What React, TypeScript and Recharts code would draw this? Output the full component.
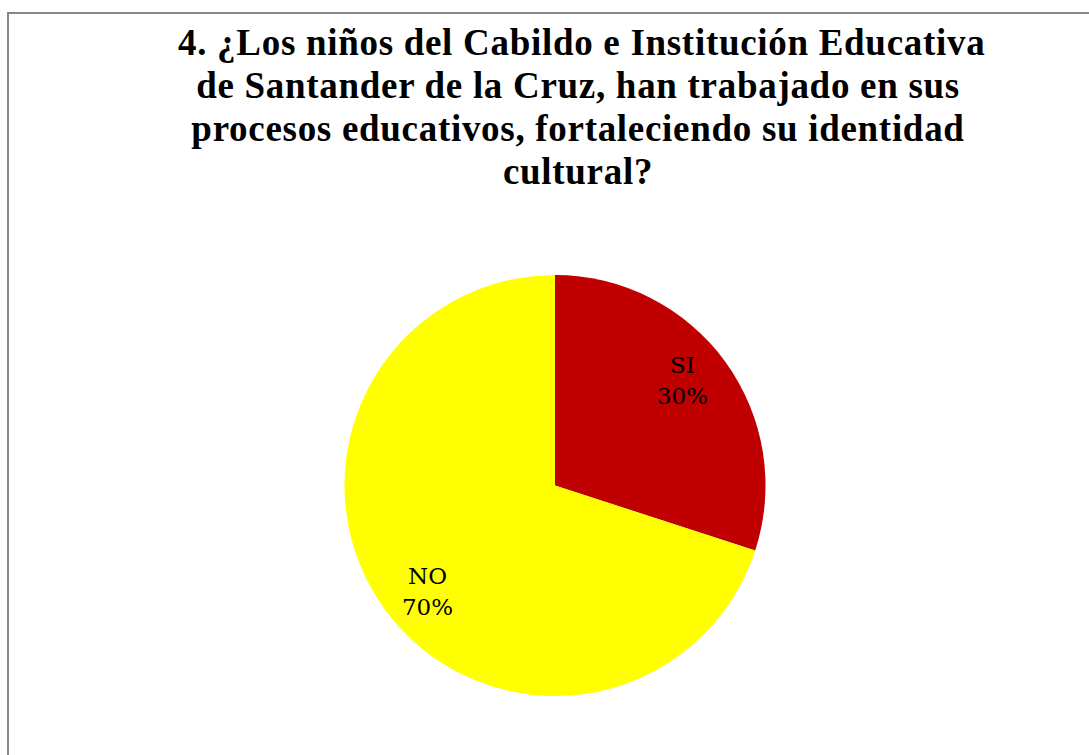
import { PieChart, Pie, Cell } from "recharts";

const categories = ["SI", "NO"];
const values = [30, 70];
const colors = ["#C00000", "#FFFF00"];
const titleLines = [
  "4. ¿Los niños del Cabildo e Institución Educativa",
  "de Santander de la Cruz, han trabajado en sus",
  "procesos educativos, fortaleciendo su identidad",
  "cultural?",
];

const data = categories.map((name, i) => ({ name, value: values[i] }));
const RAD = Math.PI / 180;

// labels sit a bit inside the slice, nudged slightly counter-clockwise like Excel's
function renderLabel(props: any) {
  const { cx, cy, midAngle, outerRadius, index, percent } = props;
  const r = outerRadius * 0.785;
  const a = (midAngle + 3.5) * RAD;
  const x = cx + r * Math.cos(-a);
  const y = cy + r * Math.sin(-a);
  return (
    <text
      x={x}
      y={y}
      textAnchor="middle"
      fill="#000"
      fontFamily="'DejaVu Serif', serif"
      fontSize={23}
    >
      <tspan x={x} dy={-7}>{data[index].name}</tspan>
      <tspan x={x} dy={31}>{`${Math.round(percent * 100)}%`}</tspan>
    </text>
  );
}

export default function App() {
  return (
    <div style={{ position: "fixed", left: 0, top: 0, width: 1089, height: 755, overflow: "hidden", background: "#fff" }}>
      <div style={{ position: "absolute", left: 7, top: 12, width: 1200, height: 900, border: "2px solid #878787" }} />
      <div
        style={{
          position: "absolute", left: 178, top: 21, width: 800, textAlign: "center",
          fontFamily: "'Liberation Serif', serif", fontWeight: "bold", fontSize: 37,
          letterSpacing: "0.7px", lineHeight: "43px", whiteSpace: "nowrap", color: "#000",
        }}
      >
        {titleLines.map((l, i) => <div key={i}>{l}</div>)}
      </div>
      <PieChart width={1089} height={755} style={{ position: "absolute", left: 0, top: 0 }}>
        <Pie
          data={data}
          dataKey="value"
          cx={550}
          cy={480.5}
          outerRadius={210.5}
          startAngle={90}
          endAngle={-270}
          stroke="none"
          labelLine={false}
          label={renderLabel}
          isAnimationActive={false}
        >
          {data.map((d, i) => <Cell key={d.name} fill={colors[i]} />)}
        </Pie>
      </PieChart>
    </div>
  );
}
